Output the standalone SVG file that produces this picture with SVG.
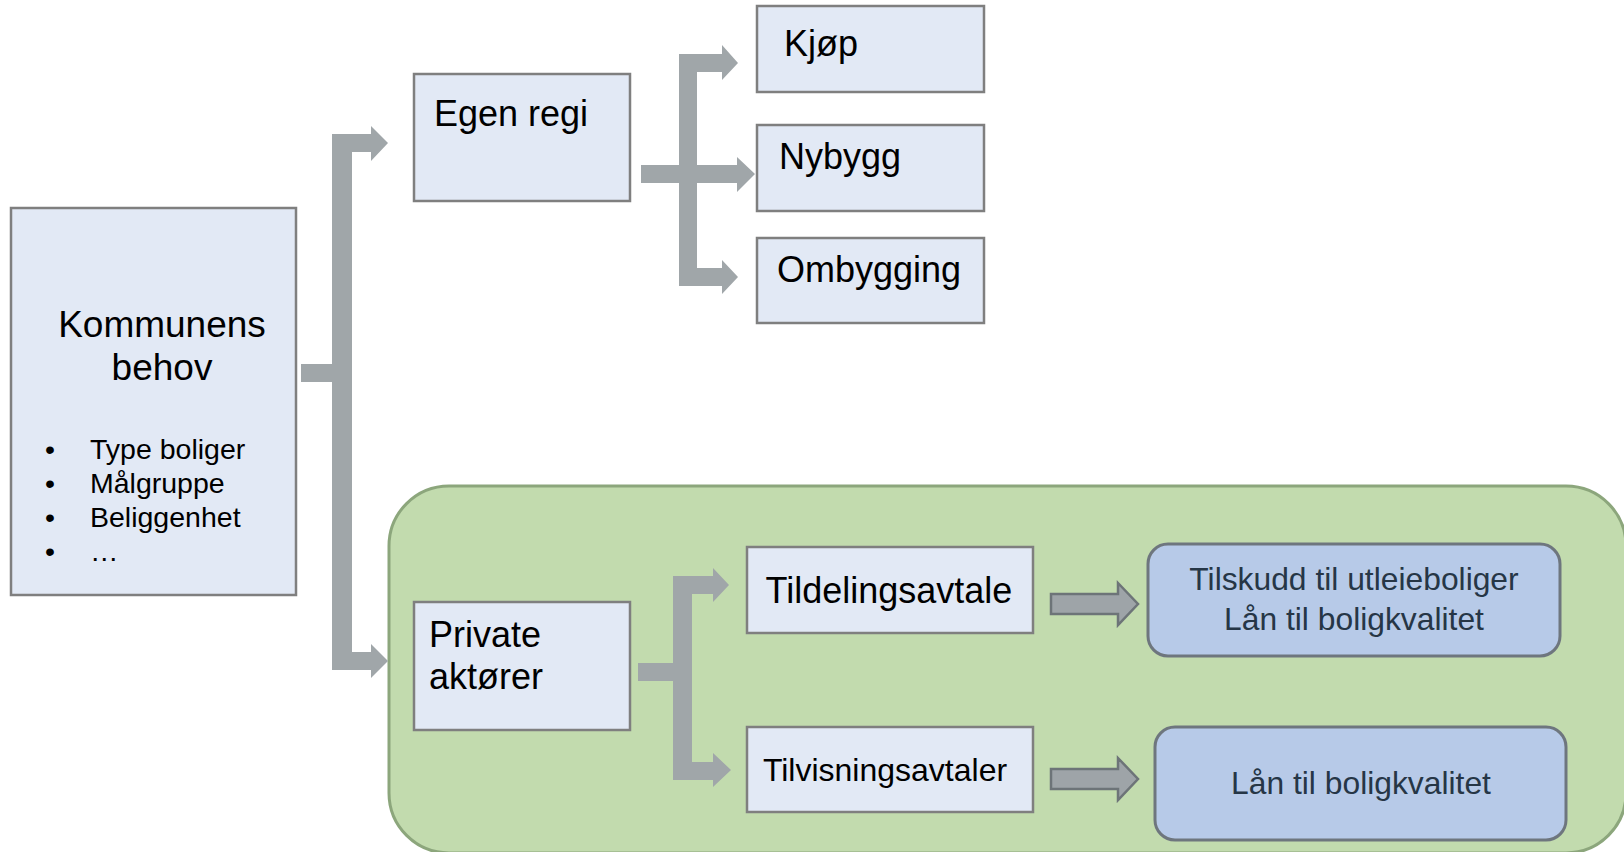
<svg xmlns="http://www.w3.org/2000/svg" width="1624" height="852" viewBox="0 0 1624 852">
<style>
.bg{fill:#ffffff}
.box{fill:#E2E9F5;stroke:#7F7F7F;stroke-width:2.5}
.group{fill:#C2DBAE;stroke:#8CA67C;stroke-width:3}
.blue{fill:#B7CAE8;stroke:#6E767E;stroke-width:3}
.conn{fill:#A0A6A9}
.small{fill:#9EA4A8;stroke:#6D7478;stroke-width:2.5}
text{font-family:"Liberation Sans",Arial,sans-serif;fill:#000}
.t35{font-size:36px}
.t36{font-size:37px}
.t28{font-size:28.5px}
.t32{font-size:32px}
.bt{font-size:31.8px;fill:#263646}
</style>
<rect class="bg" x="0" y="0" width="1624" height="852"/>
<g id="private-group">
<rect class="group" x="389" y="486" width="1237" height="367" rx="60" ry="60"/>
</g>
<g id="connectors">
<path class="conn" d="M301,364 H332 V134 H371 V126 L388,143 L371,161 V152 H352 V652 H371 V644 L388,661 L371,678 V670 H332 V382 H301 Z"/>
<path class="conn" d="M641,165 H679 V54 H722 V45 L738,63 L722,80 V72 H697 V165 H737 V157 L755,174 L737,192 V183 H697 V268 H722 V260 L738,277 L722,294 V286 H679 V183 H641 Z"/>
<path class="conn" d="M638,663 H673 V576 H713 V568 L729,585 L713,602 V594 H692 V762 H713 V753 L731,770 L713,787 V780 H673 V681 H638 Z"/>
<path class="small" d="M1051,594 H1118 V583 L1138,604 L1118,625 V614 H1051 Z"/>
<path class="small" d="M1051,769 H1118 V758 L1138,779 L1118,800 V789 H1051 Z"/>
</g>
<g id="kommunens-behov">
<rect class="box" x="11" y="208" width="285" height="387"/>
<text class="t36" x="162" y="337" text-anchor="middle">Kommunens</text>
<text class="t36" x="162" y="380" text-anchor="middle">behov</text>
<text class="t28" x="45" y="459">•</text>
<text class="t28" x="90" y="459">Type boliger</text>
<text class="t28" x="45" y="493">•</text>
<text class="t28" x="90" y="493">Målgruppe</text>
<text class="t28" x="45" y="527">•</text>
<text class="t28" x="90" y="527">Beliggenhet</text>
<text class="t28" x="45" y="561">•</text>
<text class="t28" x="90" y="561">…</text>
</g>
<g id="egen-regi">
<rect class="box" x="414" y="74" width="216" height="127"/>
<text class="t35" x="434" y="126">Egen regi</text>
</g>
<g id="kjop">
<rect class="box" x="757" y="6" width="227" height="86"/>
<text class="t35" x="784" y="56">Kjøp</text>
</g>
<g id="nybygg">
<rect class="box" x="757" y="125" width="227" height="86"/>
<text class="t35" x="779" y="169">Nybygg</text>
</g>
<g id="ombygging">
<rect class="box" x="757" y="238" width="227" height="85"/>
<text class="t35" x="777" y="282">Ombygging</text>
</g>
<g id="private-aktorer">
<rect class="box" x="414" y="602" width="216" height="128"/>
<text class="t35" x="429" y="647">Private</text>
<text class="t35" x="429" y="689">aktører</text>
</g>
<g id="tildelingsavtale">
<rect class="box" x="747" y="547" width="286" height="86"/>
<text class="t35" x="889" y="603" text-anchor="middle">Tildelingsavtale</text>
</g>
<g id="tilvisningsavtaler">
<rect class="box" x="747" y="727" width="286" height="85"/>
<text class="t32" x="885" y="781" text-anchor="middle">Tilvisningsavtaler</text>
</g>
<g id="tilskudd">
<rect class="blue" x="1148" y="544" width="412" height="112" rx="20" ry="20"/>
<text class="bt" x="1354" y="590" text-anchor="middle">Tilskudd til utleieboliger</text>
<text class="bt" x="1354" y="630" text-anchor="middle">Lån til boligkvalitet</text>
</g>
<g id="lan">
<rect class="blue" x="1155" y="727" width="411" height="113" rx="20" ry="20"/>
<text class="bt" x="1361" y="794" text-anchor="middle">Lån til boligkvalitet</text>
</g>
</svg>
